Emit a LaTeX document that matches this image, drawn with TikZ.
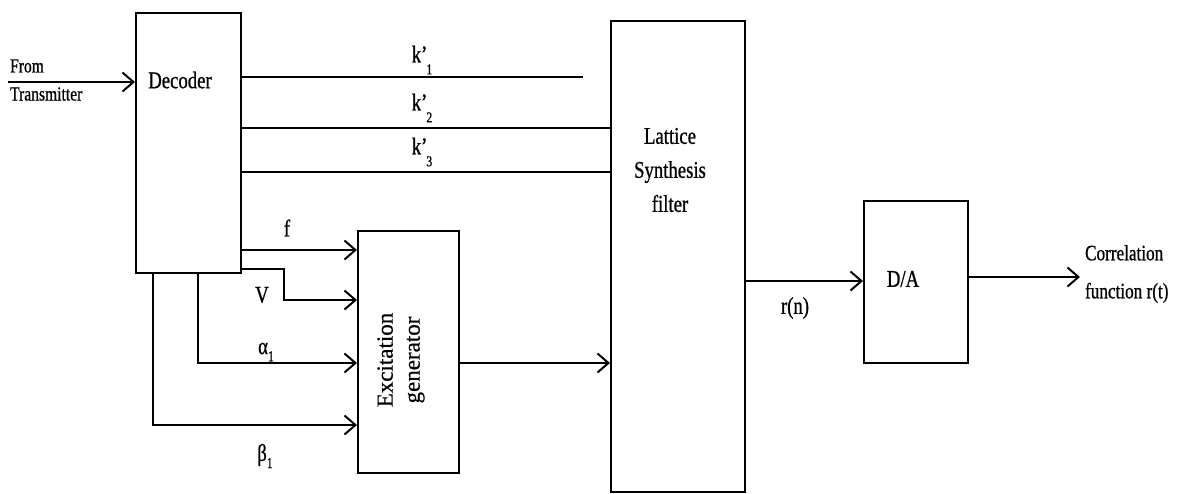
\documentclass[tikz,border=0pt]{standalone}
\usepackage{fontspec}
\setmainfont{Liberation Serif}[FakeStretch=0.78,FakeBold=0.8]
\newfontfamily\widefont{Liberation Serif}[FakeBold=0.6]
\usetikzlibrary{arrows.meta}
\newcommand{\kpr}[1]{k'\kern-1pt\raisebox{-0.5em}{\fontsize{15}{15}\selectfont #1}}
\begin{document}
\begin{tikzpicture}[x=1pt,y=-1pt,
  line width=2.2pt,
  box/.style={draw,rectangle,anchor=north west,inner sep=0pt},
  lbl/.style={font=\fontsize{24}{34}\selectfont,inner sep=0pt},
  arr/.style={-{Straight Barb[length=11pt,width=19pt,line width=2pt]}},
  ]
\useasboundingbox (0,0) rectangle (1189,493);
% blocks
\node[box,minimum width=105pt,minimum height=260pt] (dec) at (135,12) {};
\node[box,minimum width=101pt,minimum height=242pt] (exc) at (357,230) {};
\node[box,minimum width=134pt,minimum height=471pt] (lat) at (610,20) {};
\node[box,minimum width=104pt,minimum height=162pt] (da) at (863,200) {};
% texts in blocks
\node[lbl] (dect) at (180,80) {Decoder};
\node[lbl,align=center] (latt) at (670,170) {Lattice\\Synthesis\\filter};
\node[lbl] (dat) at (903,279) {D/A};
\node[inner sep=0pt,rotate=90,align=center,font=\widefont\fontsize{23}{27}\selectfont] (exct) at (401,360) {Excitation\\generator};
% input
\node[lbl,font=\fontsize{20}{20}\selectfont,anchor=west] (from) at (9,66) {From};
\node[lbl,font=\fontsize{20}{20}\selectfont,anchor=west] (tx) at (9,94) {Transmitter};
\coordinate (src) at (8,82);
\draw[arr] (src) -- (src -| dec.west);
% k' lines
\coordinate (k1end) at (583,77);
\draw (dec.east |- k1end) -- (k1end);
\draw (dec.east |- 0,128) -- (lat.west |- 0,128);
\draw (dec.east |- 0,172) -- (lat.west |- 0,172);
\node[lbl] (k1) at (422,60) {\kpr{1}};
\node[lbl] (k2) at (422,108) {\kpr{2}};
\node[lbl] (k3) at (422,152) {\kpr{3}};
% excitation inputs
\draw[arr] (dec.east |- 0,250) -- (exc.west |- 0,250);
\draw[arr] (dec.east |- 0,269) -- (284,269) -- (284,300) -- (exc.west |- 0,300);
\draw[arr] (dec.south -| 198,0) |- (exc.west |- 0,363);
\draw[arr] (dec.south -| 153,0) |- (exc.west |- 0,425);
\node[lbl] (fl) at (287,228) {f};
\node[lbl] (vl) at (262,295) {V};
\node[lbl] (al) at (266,352) {α\raisebox{-0.3em}{\fontsize{15}{15}\selectfont 1}};
\node[lbl] (bl) at (265,456) {β\raisebox{-0.3em}{\fontsize{15}{15}\selectfont 1}};
% excitation to lattice
\draw[arr] (exc.east |- 0,363) -- (lat.west |- 0,363);
% lattice to D/A
\draw[arr] (lat.east |- 0,281) -- (da.west |- 0,281);
\node[lbl] (rn) at (795,308) {r(n)};
% output
\coordinate (out) at (1080,277);
\draw[arr] (da.east |- out) -- (out);
\node[lbl,align=left,anchor=west,font=\fontsize{22}{38}\selectfont] (outt) at (1084,274) {Correlation\\function r(t)};
\end{tikzpicture}
\end{document}
